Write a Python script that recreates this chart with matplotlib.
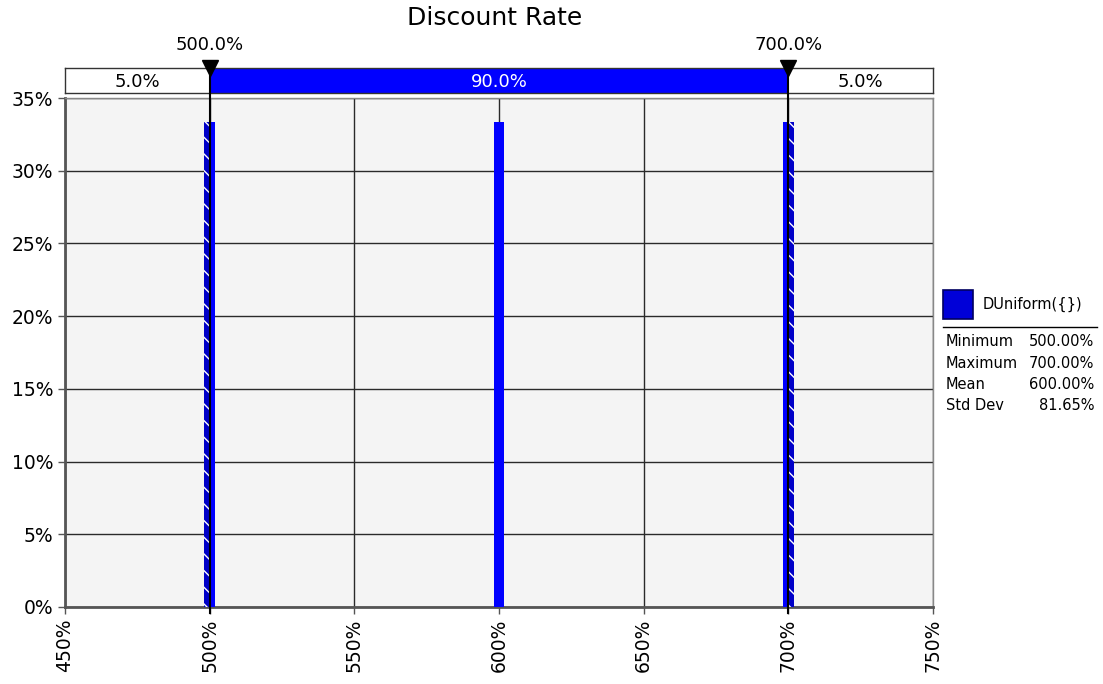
import matplotlib.pyplot as plt
import matplotlib.transforms as mtransforms
from matplotlib.patches import Rectangle
from matplotlib.lines import Line2D
import numpy as np

plt.rcParams['font.family'] = ['DejaVu Sans']
plt.rcParams['hatch.color'] = 'white'
plt.rcParams['hatch.linewidth'] = 1.0

# discrete uniform over three rates (in %)
values = [500, 600, 700]
probs = [100 / 3, 100 / 3, 100 / 3]
lo_cut, hi_cut = 500, 700
tail_probs = [5.0, 90.0, 5.0]
stats_names = ['Minimum', 'Maximum', 'Mean', 'Std Dev']
stats_vals = ['500.00%', '700.00%', '600.00%', '81.65%']
x_ticks = [450, 500, 550, 600, 650, 700, 750]
y_ticks = [0, 5, 10, 15, 20, 25, 30, 35]

W, H = 1103, 684
fig = plt.figure(figsize=(W / 100, H / 100), dpi=100)

def fbox(l, t, r, b):
    return [l / W, 1 - b / H, (r - l) / W, (b - t) / H]

ax = fig.add_axes(fbox(65, 98, 933, 607))
ax.set_facecolor('#f4f4f4')
ax.set_xlim(450, 750)
ax.set_ylim(0, 35)
ax.set_xticks(x_ticks)
ax.set_xticklabels([f'{v}%' for v in x_ticks], rotation=90, fontsize=13.5)
ax.set_yticks(y_ticks)
ax.set_yticklabels([f'{v}%' for v in y_ticks], fontsize=13.5)
ax.grid(True, color='#2a2a2a', lw=1)
ax.set_axisbelow(True)
ax.tick_params(length=5, color='#555555', width=1)
for s in ['left', 'bottom']:
    ax.spines[s].set_color('#555555')
    ax.spines[s].set_linewidth(2)
for s in ['top', 'right']:
    ax.spines[s].set_color('#888888')
    ax.spines[s].set_linewidth(1)

bw = 3.8
ax.bar(values, probs, width=bw, color='#0000ff', edgecolor='none', zorder=3)
# hatched parts of the bars lying outside the delimiters
for v, p in zip(values, probs):
    l, r = v - bw / 2, v + bw / 2
    if l < lo_cut < r:
        ax.add_patch(Rectangle((l, 0), lo_cut - l, p, facecolor='#0000c8',
                               edgecolor='white', lw=0, hatch='\\\\', zorder=4))
    if l < hi_cut < r:
        ax.add_patch(Rectangle((hi_cut, 0), r - hi_cut, p, facecolor='#0000c8',
                               edgecolor='white', lw=0, hatch='\\\\', zorder=4))

# delimiter strip above the plot
dax = fig.add_axes(fbox(65, 68, 933, 93))
dax.set_xlim(450, 750)
dax.set_ylim(0, 1)
dax.set_xticks([])
dax.set_yticks([])
for s in dax.spines.values():
    s.set_color('#333333')
    s.set_linewidth(1)
dax.axvspan(lo_cut, hi_cut, color='#0000ff', lw=0)
dax.text((450 + lo_cut) / 2, 0.45, f'{tail_probs[0]:.1f}%', ha='center', va='center', fontsize=13)
dax.text((lo_cut + hi_cut) / 2, 0.45, f'{tail_probs[1]:.1f}%', ha='center', va='center',
         fontsize=13, color='white')
dax.text((hi_cut + 750) / 2, 0.45, f'{tail_probs[2]:.1f}%', ha='center', va='center', fontsize=13)

# delimiter lines and markers
tr = mtransforms.blended_transform_factory(ax.transData, fig.transFigure)
for c in [lo_cut, hi_cut]:
    fig.add_artist(Line2D([c, c], [1 - 613 / H, 1 - 68 / H], transform=tr,
                          color='black', lw=1.5, zorder=10))
    dax.plot([c], [1], marker='v', color='black', markersize=12, clip_on=False, zorder=11)
    dax.text(c, 1.9, f'{c:.1f}%', ha='center', va='center', fontsize=13)

fig.text(495 / W, 1 - 18 / H, 'Discount Rate', ha='center', va='center', fontsize=18)

# legend / statistics panel
fig.add_artist(Rectangle((943 / W, 1 - 319 / H), 30 / W, 29 / H, transform=fig.transFigure,
                         facecolor='#0000d8', edgecolor='#000060', lw=1.2))
fig.text(983 / W, 1 - 304 / H, 'DUniform({})', ha='left', va='center', fontsize=10.5)
fig.add_artist(Line2D([943 / W, 1097 / W], [1 - 327 / H, 1 - 327 / H],
                      transform=fig.transFigure, color='black', lw=1))
for i, (n, v) in enumerate(zip(stats_names, stats_vals)):
    y = 1 - (342 + i * 21.3) / H
    fig.text(946 / W, y, n, ha='left', va='center', fontsize=10.5)
    fig.text(1094 / W, y, v, ha='right', va='center', fontsize=10.5)

fig.savefig('out.png', dpi=100)
